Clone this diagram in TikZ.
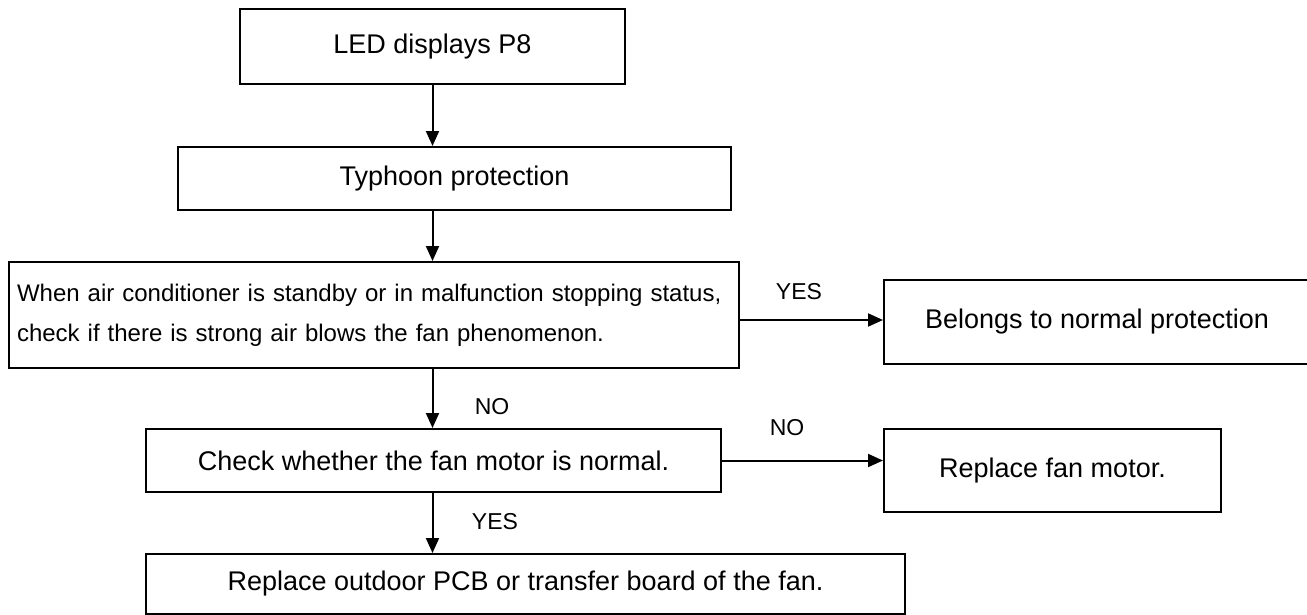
\documentclass[tikz,border=0pt]{standalone}
\usepackage{fontspec}
\setmainfont{Liberation Sans}
\usetikzlibrary{arrows.meta,calc}
\begin{document}
\begin{tikzpicture}[x=1pt,y=-1pt,
  box/.style={draw,line width=2pt,inner sep=0pt,anchor=north west,font=\fontsize{27}{32}\selectfont},
  arr/.style={line width=2pt,-{Triangle[length=15pt,width=13pt]}},
  lbl/.style={font=\fontsize{23}{27}\selectfont}]
\useasboundingbox (0,0) rectangle (1307,614);
\clip (0,0) rectangle (1307,614);
\node[box,minimum width=385pt,minimum height=75pt] (b1) at (239,8) {LED displays P8};
\node[box,minimum width=553pt,minimum height=63pt] (b2) at (177,146) {Typhoon protection};
\node[box,minimum height=106pt,text width=714pt,inner xsep=8pt,align=left,font=\fontsize{24}{40}\selectfont] (b3) at (8,261)
  {When air conditioner is standby or in malfunction stopping status,\\check if there is strong air blows the fan phenomenon.};
\node[box,minimum width=432pt,minimum height=84pt] (b4) at (883,279) {Belongs to normal protection\hspace*{6pt}};
\node[box,minimum width=575pt,minimum height=63pt] (b5) at (145,428) {Check whether the fan motor is normal.};
\node[box,minimum width=337pt,minimum height=83pt] (b6) at (883,428) {Replace fan motor.};
\node[box,minimum width=759pt,minimum height=60pt] (b7) at (145,553) {Replace outdoor PCB or transfer board of the fan.};
\draw[arr] (b1.south) -- (b1.south |- b2.north);
\draw[arr] (b2.south -| b1.south) -- (b3.north -| b1.south);
\draw[arr] (b3.south -| b1.south) -- (b5.north -| b1.south);
\draw[arr] (b5.south -| b1.south) -- (b7.north -| b1.south);
\draw[arr] ([yshift=-5pt]b3.east) -- ([yshift=-5pt]b3.east -| b4.west);
\draw[arr] (b5.east) -- (b5.east -| b6.west);
\node[lbl] (yes1) at (799,292) {YES};
\node[lbl] (no1) at (492,407) {NO};
\node[lbl] (no2) at (787,428) {NO};
\node[lbl] (yes2) at (495,522) {YES};
\end{tikzpicture}
\end{document}
